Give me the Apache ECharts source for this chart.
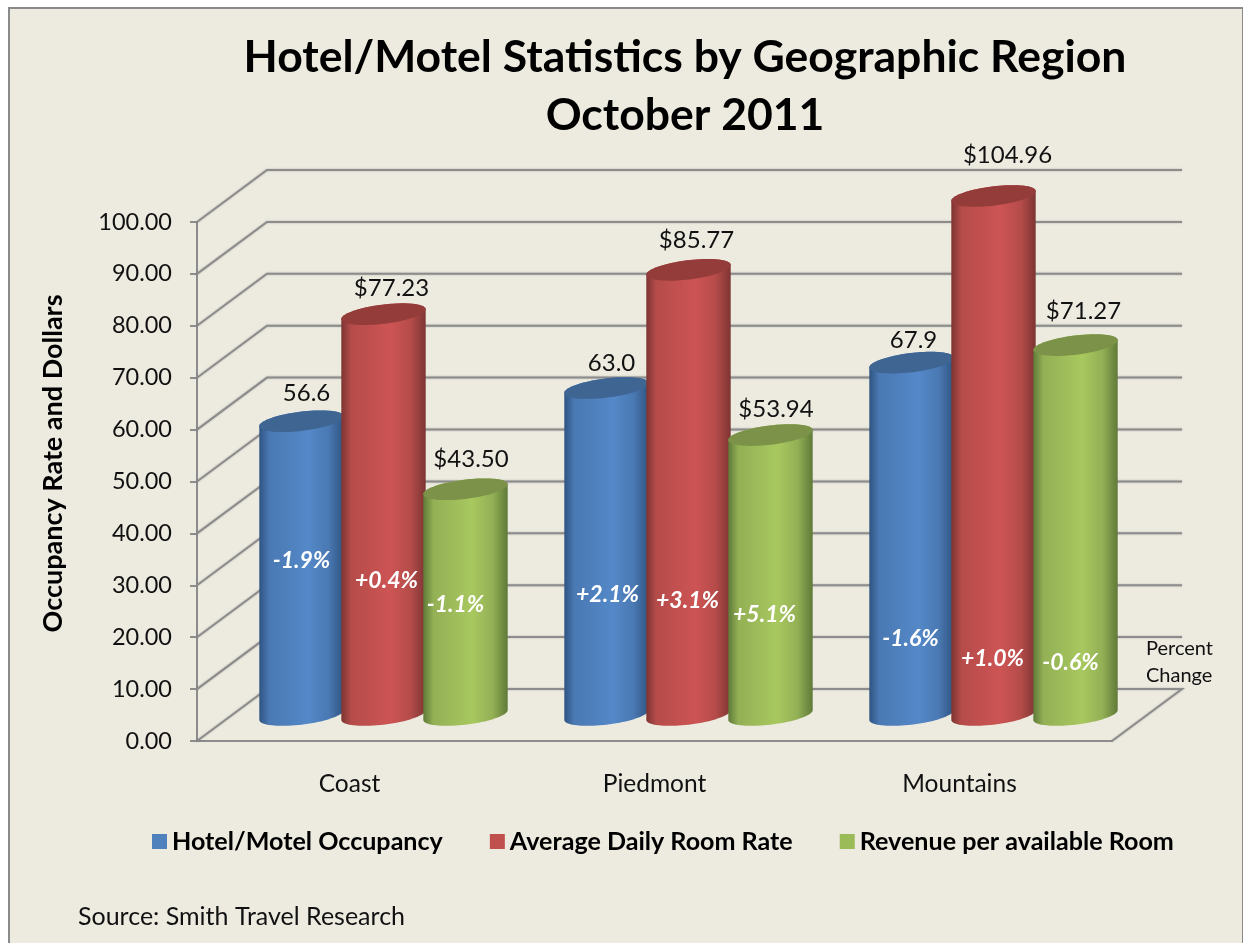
<!DOCTYPE html>
<html><head><meta charset="utf-8">
<style>
html,body{margin:0;padding:0;background:#fff;width:1243px;height:943px;overflow:hidden}
#frame{position:absolute;left:8px;top:7px;width:1232px;height:960px;background:#EDEBE0;border:2px solid #8a8a8a}
#chart{position:absolute;left:0;top:0;width:1243px;height:943px}
</style>
<script src="https://cdn.jsdelivr.net/npm/echarts@6/dist/echarts.min.js"></script>
</head><body><div id="frame"></div><div id="chart"></div>
<script>
const categories = ['Coast','Piedmont','Mountains'];
const occupancy = [56.6, 63.0, 67.9];
const roomRate = [77.23, 85.77, 104.96];
const revenue = [43.50, 53.94, 71.27];
const occupancyLabels = ['56.6','63.0','67.9'];
const roomRateLabels = ['$77.23','$85.77','$104.96'];
const revenueLabels = ['$43.50','$53.94','$71.27'];
const occupancyChange = ['-1.9%','+2.1%','-1.6%'];
const roomRateChange = ['+0.4%','+3.1%','+1.0%'];
const revenueChange = ['-1.1%','+5.1%','-0.6%'];
const yTicks = [0,10,20,30,40,50,60,70,80,90,100];

// layout only
const FONT = 'Lato, "Open Sans", sans-serif';
const DX = 70, DY = -52;            // wall depth in pixels
const RX = 42.5, RY = 9.6, TILT = -7 * Math.PI / 180;
const styles = [
 {name:'Hotel/Motel Occupancy', color:'#4F81BD', dark:'#2F5482', mid:'#4A79B3', light:'#5488C8', top:'#3F6593',
  vals:occupancy, labels:occupancyLabels, change:occupancyChange, off:[-83,-83,-83],
  lab:[[5,-28],[5,-25],[2,-22]], pctH:[34.7,28.3,19.8], pctX:[0,1,-1]},
 {name:'Average Daily Room Rate', color:'#C0504D', dark:'#7D3533', mid:'#B54C4A', light:'#CD5454', top:'#943C3A',
  vals:roomRate, labels:roomRateLabels, change:roomRateChange, off:[-1,-1,-1],
  lab:[[8,-26],[8,-30],[14,-41]], pctH:[31,27,15.8], pctX:[3,-1,-1]},
 {name:'Revenue per available Room', color:'#9BBB59', dark:'#5F7A38', mid:'#93B055', light:'#A8C85F', top:'#7B9248',
  vals:revenue, labels:revenueLabels, change:revenueChange, off:[81,81,81],
  lab:[[5.5,-30],[5.5,-26],[8,-34]], pctH:[26.2,24.3,15.2], pctX:[-10,-6,-5]}
];

function ePt(cx,cy,t){
  const c=Math.cos(TILT), s=Math.sin(TILT);
  const ax=RX*Math.cos(t), by=RY*Math.sin(t);
  return [cx+ax*c-by*s, cy+ax*s+by*c];
}
const T0 = Math.atan2(-RY*Math.sin(TILT), RX*Math.cos(TILT)); // right extreme
function cylinder(st, i, api, yMax){
  const base = api.coord([i,0]);
  const v = Math.min(st.vals[i], yMax);
  const topP = api.coord([i,v]);
  const cx = base[0]+DX/2+st.off[i];
  const by = base[1]+DY/2, ty = topP[1]+DY/2;
  const body=[], N=40;
  for(let k=0;k<=N;k++){ body.push(ePt(cx,by,T0+Math.PI*k/N)); }
  for(let k=0;k<=N;k++){ body.push(ePt(cx,ty,T0+Math.PI+Math.PI*k/N)); }
  const lid=[];
  for(let k=0;k<80;k++){ lid.push(ePt(cx,ty,2*Math.PI*k/80)); }
  const grad={type:'linear',x:0,y:0,x2:1,y2:0,colorStops:[
    {offset:0,color:st.dark},{offset:.12,color:st.mid},{offset:.58,color:st.light},
    {offset:.82,color:st.mid},{offset:1,color:st.dark}]};
  const tx=cx+st.lab[i][0], lyy=ty+st.lab[i][1];
  return {type:'group',children:[
    {type:'polygon',shape:{points:body},style:{fill:grad}},
    {type:'polygon',shape:{points:lid},style:{fill:st.top}},
    {type:'text',style:{text:st.labels[i],x:tx,y:lyy,fill:'#111',fontSize:24,fontFamily:FONT,align:'center',verticalAlign:'middle'}},
    {type:'text',style:{text:st.change[i],x:cx+st.pctX[i],y:api.coord([i,st.pctH[i]])[1],fill:'#fff',fontSize:23,fontWeight:'bold',fontStyle:'italic',fontFamily:FONT,align:'center',verticalAlign:'middle',shadowBlur:3,shadowColor:'rgba(0,0,0,.35)'}}
  ]};
}

const chart = echarts.init(document.getElementById('chart'),null,{renderer:'canvas'});
const wallStyle={stroke:'#8c8c8c',lineWidth:2,fill:null,shadowBlur:2,shadowColor:'rgba(0,0,0,.25)'};
const wallSeries={
  type:'custom',name:'walls',coordinateSystem:'cartesian2d',silent:true,z:1,
  data:yTicks.map(t=>[0,t]),
  renderItem(params,api){
    const t=api.value(1), p=api.coord([0,t]), g=params.coordSys;
    const x0=g.x, y=p[1], x1=g.x+g.width;
    const pts=[[x0,y],[x0+DX,y+DY],[x1+DX,y+DY]];
    if(t===0) pts.push([x1,y]);
    return {type:'polyline',shape:{points:pts},style:wallStyle};
  }
};
const yMax=100;
const barSeries=styles.map(st=>({
  type:'custom',name:st.name,coordinateSystem:'cartesian2d',silent:true,z:2,
  itemStyle:{color:st.color},
  data:categories.map((c,i)=>[i,st.vals[i]]),
  renderItem(params,api){ return cylinder(st,params.dataIndex,api,yMax); }
}));

chart.setOption({
  animation:false,
  backgroundColor:'transparent',
  title:{text:'Hotel/Motel Statistics by Geographic Region\nOctober 2011',left:680,top:24,textAlign:'center',
    textStyle:{fontFamily:FONT,fontWeight:'bold',fontSize:44.5,lineHeight:58,color:'#000'}},
  grid:{left:197,top:222,width:915,height:519,containLabel:false},
  legend:{data:styles.map(s=>s.name),left:147,top:824,icon:'rect',itemWidth:15,itemHeight:15,itemGap:47,
    textStyle:{fontFamily:FONT,fontWeight:'bold',fontSize:25.1,color:'#000'},selectedMode:false},
  xAxis:{type:'category',data:categories,
    axisLine:{lineStyle:{color:'#8c8c8c',width:2}},axisTick:{show:false},
    axisLabel:{fontFamily:FONT,fontSize:24.5,color:'#111',margin:31}},
  yAxis:{type:'value',min:0,max:yMax,interval:10,name:'Occupancy Rate and Dollars',nameLocation:'middle',nameGap:130,
    nameTextStyle:{fontFamily:FONT,fontWeight:'bold',fontSize:27,color:'#000',padding:[0,0,0,36]},
    axisLine:{show:true,lineStyle:{color:'#8c8c8c',width:2}},
    axisTick:{show:true,length:7,lineStyle:{color:'#8c8c8c',width:2}},
    splitLine:{show:false},
    axisLabel:{fontFamily:FONT,fontSize:23.5,color:'#111',margin:25,padding:[6,0,0,0],formatter:v=>v.toFixed(2)}},
  graphic:[
    {type:'text',left:78,top:904,style:{text:'Source: Smith Travel Research',fontFamily:FONT,fontSize:25,fill:'#111'}},
    {type:'text',left:1146,top:635,style:{text:'Percent\nChange',fontFamily:FONT,fontSize:20,lineHeight:27,fill:'#111',align:'center'}}
  ],
  series:[wallSeries].concat(barSeries)
});
</script></body></html>
